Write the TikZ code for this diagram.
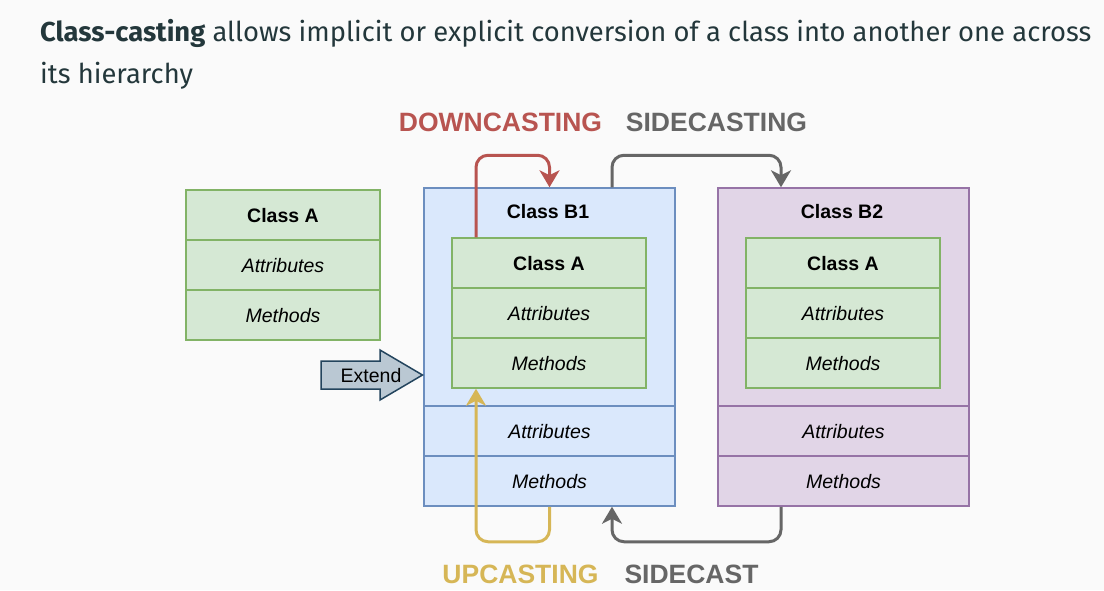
\documentclass[tikz,border=0pt]{standalone}
\usepackage{fontspec}
\setmainfont{Liberation Sans}
\newfontfamily\firafont{Fira Sans}
\usetikzlibrary{arrows.meta}
\definecolor{bgc}{HTML}{FAFAFA}
\definecolor{titlec}{HTML}{23373B}
\definecolor{gfill}{HTML}{D5E8D4}
\definecolor{gstroke}{HTML}{82B366}
\definecolor{bfill}{HTML}{DAE8FC}
\definecolor{bstroke}{HTML}{6C8EBF}
\definecolor{pfill}{HTML}{E1D5E7}
\definecolor{pstroke}{HTML}{9673A6}
\definecolor{redc}{HTML}{B85450}
\definecolor{greyc}{HTML}{666666}
\definecolor{yelc}{HTML}{D6B656}
\definecolor{extfill}{HTML}{BAC8D3}
\definecolor{extstroke}{HTML}{23445D}
\begin{document}
\begin{tikzpicture}[x=1pt,y=-1pt,
  diagfont/.style={font=\fontsize{19.5}{22}\selectfont},
  rowbase/.style={line width=1.5pt, minimum height=50pt, inner sep=0pt, text depth=0pt, diagfont},
  greenrow/.style={rowbase, draw=gstroke, fill=gfill, minimum width=194pt},
  bluerow/.style={rowbase, draw=bstroke, fill=bfill, minimum width=251pt},
  purplerow/.style={rowbase, draw=pstroke, fill=pfill, minimum width=251pt},
  outerblue/.style={draw=bstroke, fill=bfill, line width=1.5pt, minimum width=251pt, minimum height=318pt, inner sep=0pt},
  outerpurple/.style={draw=pstroke, fill=pfill, line width=1.5pt, minimum width=251pt, minimum height=318pt, inner sep=0pt},
  boxlabel/.style={inner sep=0pt, text depth=0pt, diagfont},
  castlabel/.style={inner sep=0pt, text depth=0pt, font=\fontsize{26.5}{28}\selectfont\bfseries},
  castarrow/.style={line width=3pt, rounded corners=12pt, -{Stealth[length=17pt,width=20pt,inset=5pt]}},
  titletext/.style={anchor=base west, inner sep=0pt, text=titlec, font=\firafont\fontsize{27.35}{30}\selectfont}
]
\fill[bgc] (0,0) rectangle (1104,590);
\useasboundingbox (0,0) rectangle (1104,590);

% title
\node[titletext] (t1) at (40,41.7) {\textbf{Class-casting} allows implicit or explicit conversion of a class into another one across};
\node[titletext] (t2) at (40,83) {its hierarchy};

% Class A (standalone)
\node[greenrow] (ahead) at (283,215) {\bfseries Class A};
\node[greenrow] (aattr) at (283,265) {\itshape Attributes};
\node[greenrow] (ameth) at (283,315) {\itshape Methods};

% Class B1
\node[outerblue] (b1) at (549.5,347) {};
\node[boxlabel] (b1t) at (548,211) {\bfseries Class B1};
\node[greenrow] (b1ca) at (549,263) {\bfseries Class A};
\node[greenrow] (b1cattr) at (549,313) {\itshape Attributes};
\node[greenrow] (b1cmeth) at (549,363) {\itshape Methods};
\node[bluerow] (b1attr) at (549.5,431) {\itshape Attributes};
\node[bluerow] (b1meth) at (549.5,481) {\itshape Methods};

% Class B2
\node[outerpurple] (b2) at (843.5,347) {};
\node[boxlabel] (b2t) at (842,211) {\bfseries Class B2};
\node[greenrow] (b2ca) at (843,263) {\bfseries Class A};
\node[greenrow] (b2cattr) at (843,313) {\itshape Attributes};
\node[greenrow] (b2cmeth) at (843,363) {\itshape Methods};
\node[purplerow] (b2attr) at (843.5,431) {\itshape Attributes};
\node[purplerow] (b2meth) at (843.5,481) {\itshape Methods};

% Extend arrow
\draw[fill=extfill, draw=extstroke, line width=1.5pt, line join=miter]
  (321,361) -- (380,361) -- (380,350) -- (422.5,375) -- (380,400) -- (380,389) -- (321,389) -- cycle;
\node[boxlabel] (ext) at (371,375) {Extend};

% casting arrows
\draw[castarrow, draw=redc, color=redc] ([xshift=-73pt]b1ca.north) -- ++(0,-82) -| (b1.north);
\draw[castarrow, draw=greyc, color=greyc] ([xshift=62.5pt]b1.north) -- ++(0,-32) -| ([xshift=-62.5pt]b2.north);
\draw[castarrow, draw=yelc, color=yelc] (b1.south) -- ++(0,35) -| ([xshift=-73pt]b1cmeth.south);
\draw[castarrow, draw=greyc, color=greyc] ([xshift=-62.5pt]b2.south) -- ++(0,35) -| ([xshift=62.5pt]b1.south);

% labels
\node[castlabel, text=redc] (ldown) at (500.5,122.5) {DOWNCASTING};
\node[castlabel, text=greyc] (lside) at (716.5,122.5) {SIDECASTING};
\node[castlabel, text=yelc] (lup) at (520.5,574.5) {UPCASTING};
\node[castlabel, text=greyc] (lsidec) at (691.5,574.5) {SIDECAST};
\end{tikzpicture}
\end{document}
